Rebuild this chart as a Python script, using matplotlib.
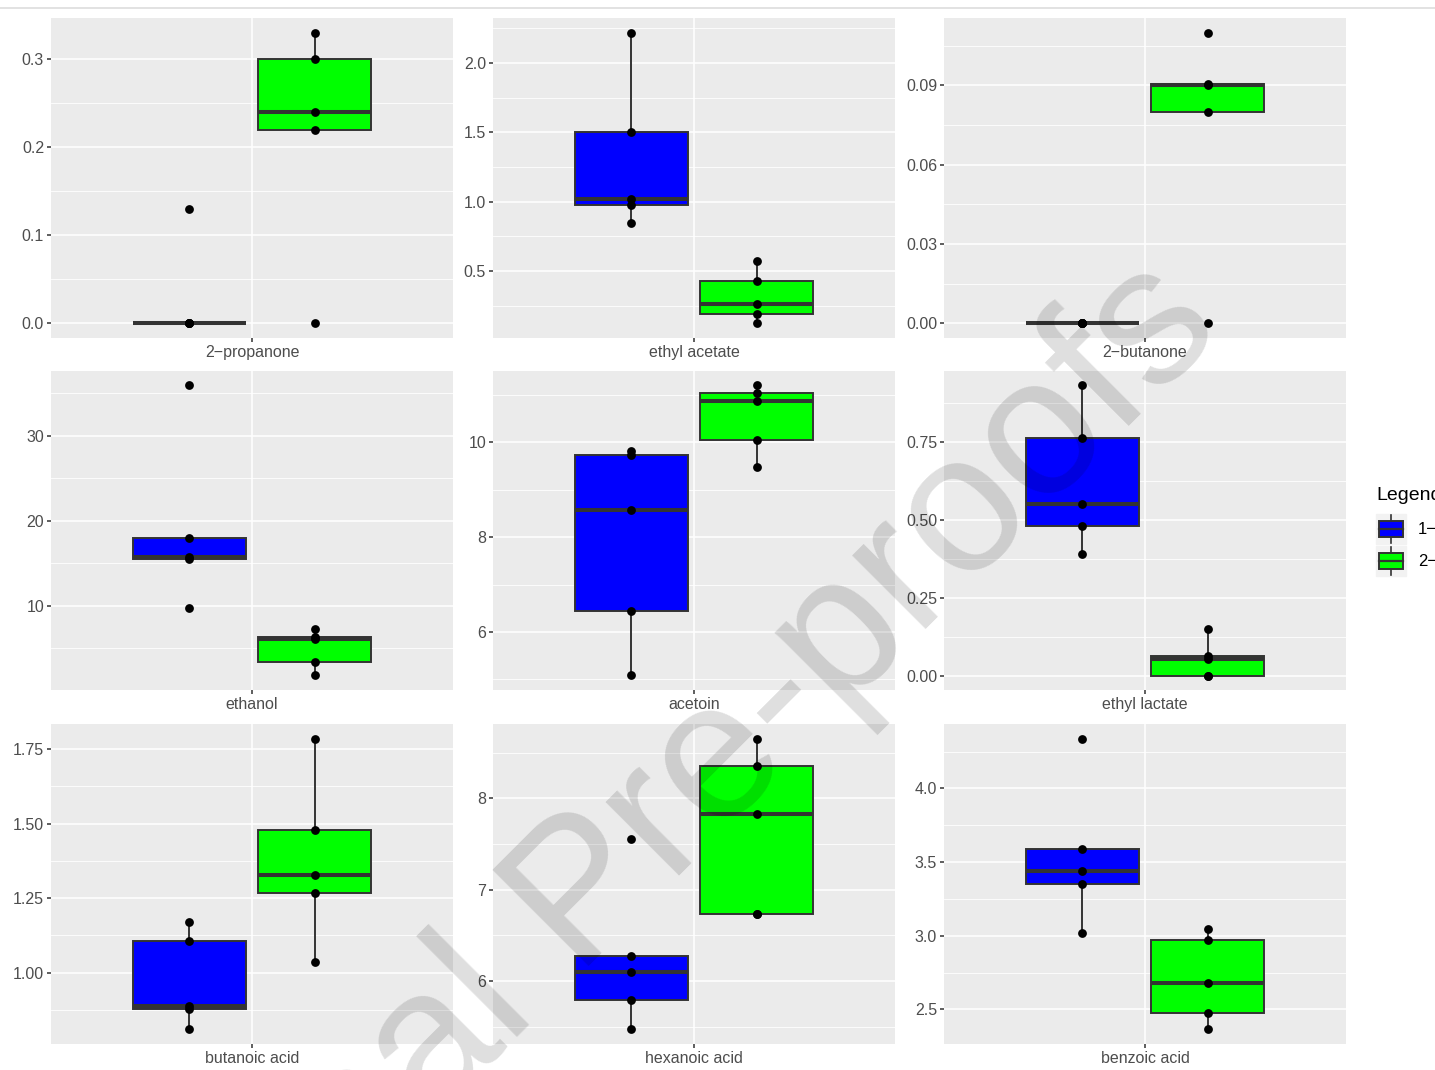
import matplotlib
matplotlib.use('Agg')
import matplotlib.pyplot as plt
from matplotlib.ticker import MultipleLocator, FormatStrFormatter
from matplotlib.patches import Rectangle
from matplotlib.lines import Line2D

plt.rcParams['font.family'] = ['Liberation Sans', 'DejaVu Sans']

# values, five replicates per group
compounds = ['2−propanone', 'ethyl acetate', '2−butanone',
             'ethanol', 'acetoin', 'ethyl lactate',
             'butanoic acid', 'hexanoic acid', 'benzoic acid']
group1 = [[0, 0, 0, 0, 0.13],
          [0.85, 0.98, 1.02, 1.5, 2.22],
          [0, 0, 0, 0, 0],
          [9.65, 15.5, 15.7, 17.9, 35.9],
          [5.08, 6.44, 8.58, 9.73, 9.82],
          [0.39, 0.48, 0.551, 0.763, 0.93],
          [0.81, 0.878, 0.888, 1.107, 1.17],
          [5.47, 5.79, 6.10, 6.275, 7.56],
          [3.02, 3.348, 3.441, 3.589, 4.338]]
group2 = [[0, 0.22, 0.24, 0.30, 0.33],
          [0.123, 0.188, 0.261, 0.428, 0.572],
          [0, 0.08, 0.09, 0.0905, 0.11],
          [1.76, 3.4, 6.0, 6.35, 7.18],
          [9.48, 10.06, 10.88, 11.05, 11.2],
          [0, 0, 0.052, 0.062, 0.148],
          [1.037, 1.269, 1.329, 1.477, 1.785],
          [6.73, 6.73, 7.83, 8.35, 8.655],
          [2.364, 2.473, 2.681, 2.971, 3.043]]
y_step = [0.1, 0.5, 0.03, 10, 2, 0.25, 0.25, 1, 0.5]
y_fmt = ['%.1f', '%.1f', '%.2f', '%d', '%d', '%.2f', '%.2f', '%d', '%.1f']
legend_title = 'Legend'
legend_labels = ['1−', '2−']
colors = ['#0000FF', '#00FF00']

W, H = 1435, 1070
fig = plt.figure(figsize=(W/100, H/100), dpi=100)


def px_axes(x0, y0, x1, y1):
    return fig.add_axes([x0/W, 1 - y1/H, (x1 - x0)/W, (y1 - y0)/H])


cols = [(51, 453), (493, 895), (944, 1346)]
rows = [(18, 338), (371, 690), (724, 1044)]
dodge = 0.1875
bw = 0.3375
edge = '#333333'

for i, name in enumerate(compounds):
    r, c = divmod(i, 3)
    ax = px_axes(cols[c][0], rows[r][0], cols[c][1], rows[r][1])
    ax.set_facecolor('#EBEBEB')
    for s in ax.spines.values():
        s.set_visible(False)
    data = [group1[i], group2[i]]
    pos = [1 - dodge, 1 + dodge]
    bp = ax.boxplot(data, positions=pos, widths=bw, patch_artist=True,
                    showcaps=False, showfliers=False, whis=1.5, zorder=2,
                    boxprops=dict(edgecolor=edge, linewidth=1.4),
                    whiskerprops=dict(color=edge, linewidth=1.4),
                    medianprops=dict(color=edge, linewidth=2.9,
                                     solid_capstyle='butt'))
    for patch, col in zip(bp['boxes'], colors):
        patch.set_facecolor(col)
    for p, vals in zip(pos, data):
        ax.scatter([p]*len(vals), vals, s=40, color='black', zorder=4,
                   linewidths=0)
    allv = group1[i] + group2[i]
    lo, hi = min(allv), max(allv)
    pad = 0.05*(hi - lo)
    ax.set_ylim(lo - pad, hi + pad)
    ax.set_xlim(0.4, 1.6)
    ax.set_xticks([1])
    ax.set_xticklabels([name])
    ax.yaxis.set_major_locator(MultipleLocator(y_step[i]))
    ax.yaxis.set_minor_locator(MultipleLocator(y_step[i]/2))
    ax.yaxis.set_major_formatter(FormatStrFormatter(y_fmt[i]))
    ax.grid(True, which='major', color='white', linewidth=1.1, zorder=0)
    ax.grid(True, which='minor', axis='y', color='white', linewidth=0.6)
    ax.set_axisbelow(True)
    ax.tick_params(axis='both', which='major', length=3, width=1.1,
                   color=edge, labelcolor='#4D4D4D', labelsize=11.5, pad=2)
    ax.tick_params(axis='y', which='minor', length=0)

# legend drawn by hand at the right edge
lax = px_axes(1370, 480, 1435, 590)
lax.set_xlim(1370, 1435)
lax.set_ylim(590, 480)
lax.axis('off')
lax.text(1376, 495, legend_title, fontsize=14, color='black', va='center',
         clip_on=False)
for k, (lab, col) in enumerate(zip(legend_labels, colors)):
    yc = 529 + k*32
    lax.add_patch(Rectangle((1376, yc - 15), 30, 30, color='#F2F2F2', zorder=1))
    lax.plot([1391, 1391], [yc - 14, yc + 14], color=edge, lw=1.2, zorder=2)
    lax.add_patch(Rectangle((1379, yc - 8), 24, 16, facecolor=col,
                            edgecolor=edge, lw=1.4, zorder=3))
    lax.plot([1379, 1403], [yc, yc], color=edge, lw=1.6, zorder=4)
    lax.text(1418, yc, lab, fontsize=12, color='black', va='center',
             clip_on=False)

# page rule and watermark
fig.add_artist(Line2D([0, 1], [1 - 8/H, 1 - 8/H], color='#DDDDDD', lw=1.2))
fig.text(655/W, 1 - 900/H, 'Journal Pre-proofs', fontsize=141, color='black',
         alpha=0.13, rotation=45, rotation_mode='anchor', ha='center',
         va='baseline', zorder=10)

fig.savefig('out.png', dpi=100)
